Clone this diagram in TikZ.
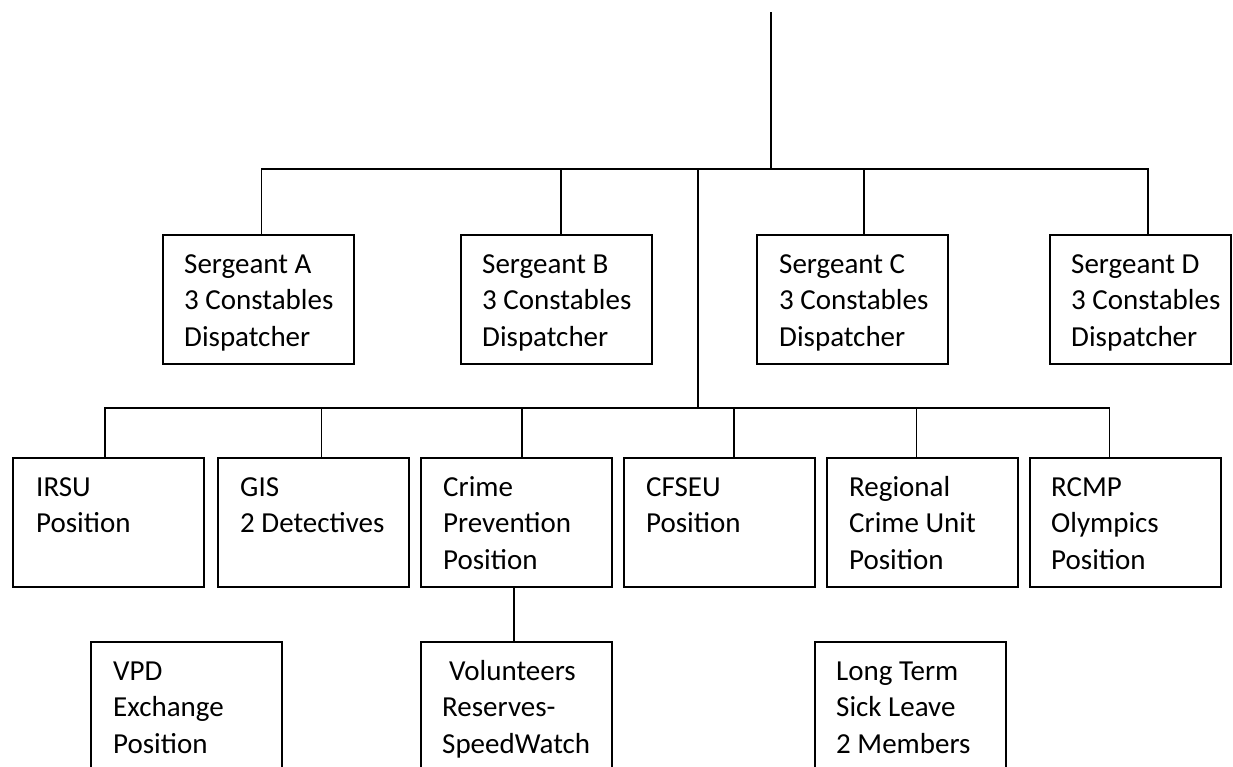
\documentclass[tikz,border=0pt]{standalone}
\usepackage{fontspec}
\setmainfont{Carlito}
\begin{document}
\begin{tikzpicture}[x=1pt,y=-1pt,
  unit/.style={draw, line width=1.8pt, rectangle, anchor=north west,
    inner sep=0pt, outer sep=0pt, minimum width=191pt, minimum height=129pt},
  openunit/.style={unit, minimum height=150pt},
  txt/.style={anchor=base west, inner sep=0pt, font=\fontsize{29}{36.5}\selectfont},
  link/.style={line width=1.7pt}]
\useasboundingbox (0,0) rectangle (1233,766);

% sergeant units
\node[unit] (sA) at (163,235) {};
\node[unit] (sB) at (461,235) {};
\node[unit] (sC) at (757,235) {};
\node[unit, minimum width=181pt] (sD) at (1050,235) {};

% specialised positions
\node[unit] (irsu) at (13,458) {};
\node[unit] (gis) at (218,458) {};
\node[unit] (crime) at (421,458) {};
\node[unit] (cfseu) at (624,458) {};
\node[unit] (rcu) at (827,458) {};
\node[unit] (rcmp) at (1030,458) {};

% bottom row
\node[openunit] (vpd) at (91,642) {};
\node[openunit] (vol) at (421,642) {};
\node[openunit] (sick) at (815,642) {};

% box texts
\newcommand{\unittext}[3]{%
  \node[txt] (#1t) at ([xshift=#2pt,yshift=-38pt]#1.north west)
    {\parbox[t]{175pt}{#3}};}
\unittext{sA}{21}{Sergeant A\\3 Constables\\Dispatcher}
\unittext{sB}{21}{Sergeant B\\3 Constables\\Dispatcher}
\unittext{sC}{22}{Sergeant C\\3 Constables\\Dispatcher}
\unittext{sD}{21}{Sergeant D\\3 Constables\\Dispatcher}
\unittext{irsu}{23}{IRSU\\Position}
\unittext{gis}{22}{GIS\\2 Detectives}
\unittext{crime}{22}{Crime\\Prevention\\Position}
\unittext{cfseu}{22}{CFSEU\\Position}
\unittext{rcu}{22}{Regional\\Crime Unit\\Position}
\unittext{rcmp}{21}{RCMP\\Olympics\\Position}
\unittext{vpd}{22}{VPD\\Exchange\\Position}
\unittext{vol}{21}{\hspace*{7pt}Volunteers\\Reserves-\\SpeedWatch}
\unittext{sick}{21}{Long Term\\Sick Leave\\2 Members}

% connectors
\coordinate (root) at (771,12);
\coordinate (hub1) at (771,169);
\coordinate (hub2) at (698,169);
\coordinate (hub3) at (698,408);

\draw[link] (root) -- (hub1);
\draw[link] ([xshift=3pt]sA.north) |- (hub1) -| ([xshift=7.5pt]sD.north);
\draw[link] ([xshift=4.5pt]sB.north) -- ([xshift=4.5pt]sB.north |- hub1);
\draw[link] ([xshift=11.5pt]sC.north) -- ([xshift=11.5pt]sC.north |- hub1);

\draw[link] (hub2) -- (hub3);
\draw[link] ([xshift=-3.5pt]irsu.north) |- (hub3) -| ([xshift=-16pt]rcmp.north);
\draw[link] ([xshift=8pt]gis.north) -- ([xshift=8pt]gis.north |- hub3);
\draw[link] ([xshift=5.5pt]crime.north) -- ([xshift=5.5pt]crime.north |- hub3);
\draw[link] ([xshift=14.5pt]cfseu.north) -- ([xshift=14.5pt]cfseu.north |- hub3);
\draw[link] ([xshift=-6pt]rcu.north) -- ([xshift=-6pt]rcu.north |- hub3);

\draw[link] ([xshift=-2.5pt]crime.south) -- ([xshift=-2.5pt]crime.south |- vol.north);
\end{tikzpicture}
\end{document}
